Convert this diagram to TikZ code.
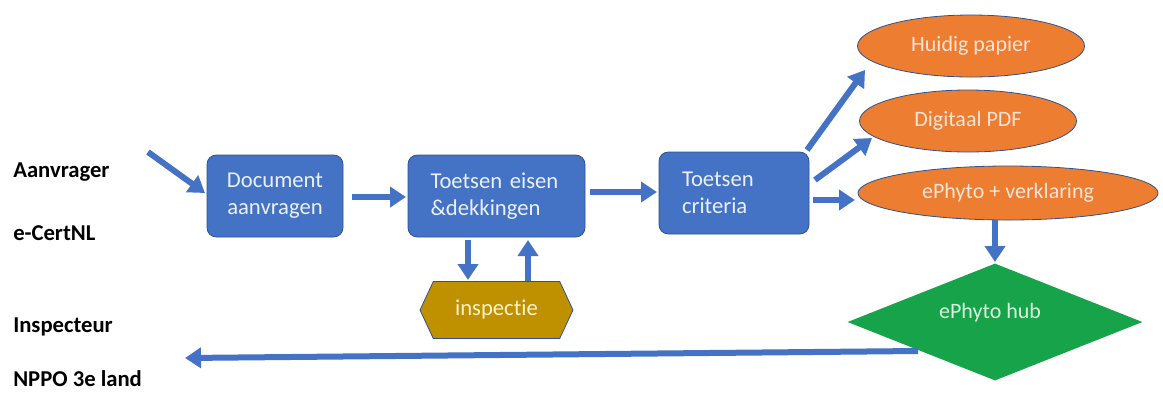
\documentclass[tikz,border=0pt]{standalone}
\usepackage{fontspec}
\setmainfont[Ligatures=NoCommon]{Carlito}
\usetikzlibrary{shapes.geometric,shapes.symbols,arrows.meta,calc}
\definecolor{boxblue}{HTML}{4472C4}
\definecolor{edgeblue}{HTML}{2F528F}
\definecolor{arrblue}{HTML}{4472C4}
\definecolor{orng}{HTML}{ED7D31}
\definecolor{gold}{HTML}{BF9000}
\definecolor{hubgreen}{HTML}{17A34A}
\definecolor{boxtext}{HTML}{EAF0FA}
\definecolor{orngtext}{HTML}{FCE4D6}
\definecolor{goldtext}{HTML}{FFF2CC}
\definecolor{greentext}{HTML}{D5F5DC}
\begin{document}
\begin{tikzpicture}[x=0.75pt,y=-0.75pt,
  lane/.style={anchor=west,font=\fontsize{17}{20}\selectfont\bfseries,text=black,inner sep=0pt},
  procbox/.style={rectangle,rounded corners=7pt,fill=boxblue,draw=edgeblue,line width=0.6pt,
    minimum height=61.5pt,inner sep=0pt,text=boxtext,font=\fontsize{17}{20}\selectfont},
  outell/.style={ellipse,fill=orng,draw=edgeblue,line width=0.6pt,inner sep=0pt,
    text=orngtext,font=\fontsize{16.5}{19}\selectfont},
  arr/.style={draw=arrblue,line width=4.5pt,-{Triangle[length=12pt,width=15pt]}}]
\useasboundingbox (0,0) rectangle (1163,394);
% lane labels
\node[lane] (l1) at (13,172) {Aanvrager};
\node[lane] (l2) at (13,233) {e-CertNL};
\node[lane] (l3) at (13,327) {Inspecteur};
\node[lane] (l4) at (13,379) {NPPO 3e land};
% process boxes
\node[procbox,minimum width=102pt,align=center] (doc) at (275,196) {Document\\aanvragen};
\node[procbox,minimum width=132.75pt,text width=99pt,align=left] (eisen) at (496.5,196) {Toetsen eisen\\\&dekkingen};
\node[procbox,minimum width=112.5pt,text width=78pt,align=left] (crit) at (734,193) {Toetsen\\criteria};
% inspectie
\node[signal,signal to=west and east,signal pointer angle=130,fill=gold,draw=edgeblue,line width=0.6pt,
  minimum width=114.75pt,minimum height=42.75pt,inner sep=0pt,text=goldtext,
  font=\fontsize{17}{20}\selectfont] (insp) at (496.5,310) {inspectie};
% outputs
\node[outell,minimum width=170.25pt,minimum height=46.5pt] (huid) at (971,46) {Huidig papier};
\node[outell,minimum width=162.75pt,minimum height=46.5pt] (dig) at (968,121) {Digitaal PDF};
\node[outell,minimum width=225pt,minimum height=40.5pt] (eph) at (1008,193) {ePhyto + verklaring};
% hub
\node[diamond,aspect=2.52,fill=hubgreen,inner sep=0pt,minimum width=221.25pt,minimum height=87.75pt] (hub) at (995,322) {};
\node[text=greentext,font=\fontsize{16.5}{19}\selectfont] (hubtxt) at (990,313) {ePhyto hub};
% free ends
\coordinate (s) at (148,152);
\coordinate (e) at (185,358);
% arrows
\draw[arr] (s) -- ($(doc)+(-70,-3)$);
\draw[arr] ($(doc)+(77,1)$) -- ($(eisen)+(-90.5,1)$);
\draw[arr] ($(eisen)+(93.5,-4)$) -- ($(crit)+(-77,-1)$);
\draw[arr] ($(eisen)+(-28.5,44)$) -- ($(insp)+(-28.5,-30)$);
\draw[arr] ($(insp)+(31.5,-29)$) -- ($(eisen)+(31.5,44)$);
\draw[arr] ($(crit)+(73,-43)$) -- ($(huid)+(-106,24)$);
\draw[arr] ($(crit)+(81,-13)$) -- ($(dig)+(-96,17)$);
\draw[arr] ($(crit)+(79,7)$) -- ($(eph)+(-153,7)$);
\draw[arr] ($(eph)+(-13,27)$) -- ($(hub)+(0,-60)$);
\draw[arr] ($(hub)+(-77,29)$) -- (e);
\end{tikzpicture}
\end{document}
